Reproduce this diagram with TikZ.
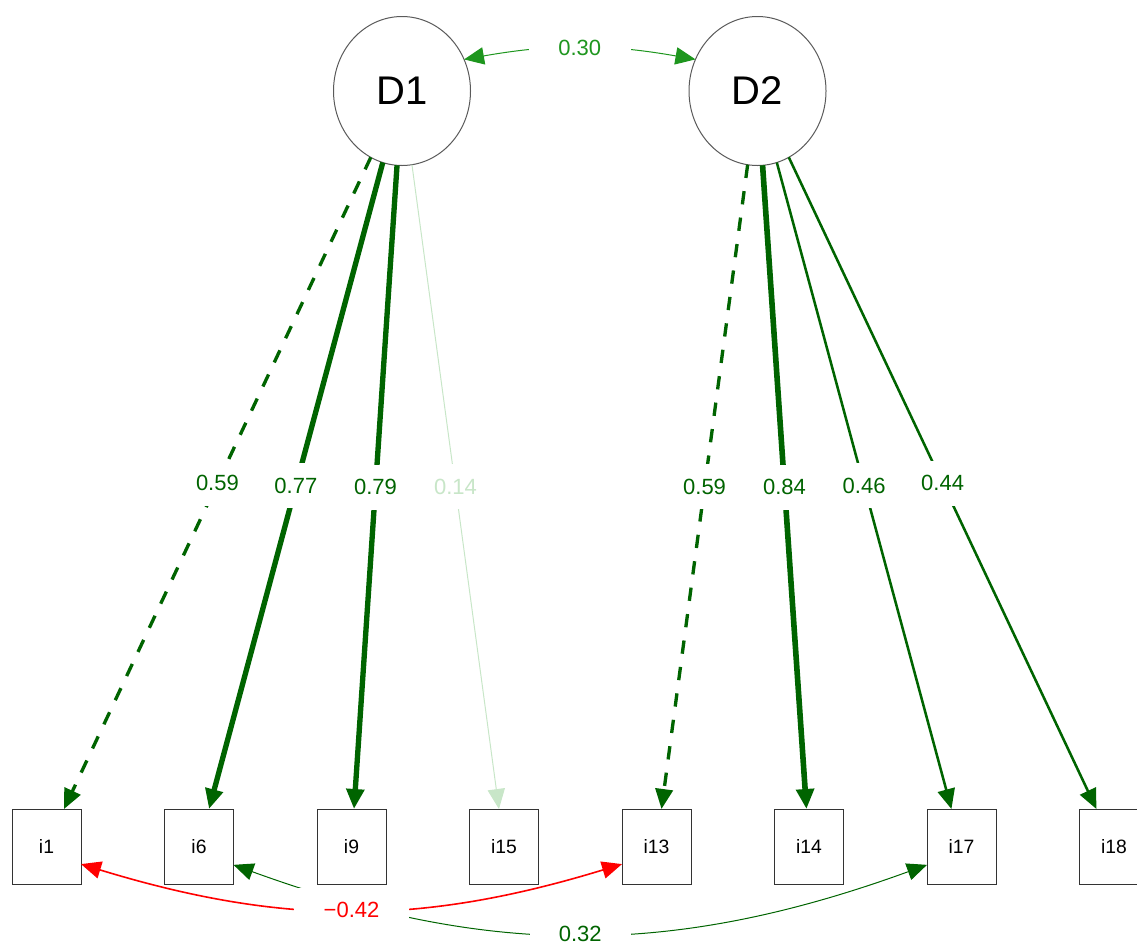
\documentclass[tikz,border=0pt]{standalone}
\usepackage{fontspec}
\setmainfont{Liberation Sans}
\usetikzlibrary{arrows.meta,shapes.geometric}

\definecolor{loadgreen}{RGB}{0,100,0}
\definecolor{weakgreen}{RGB}{200,230,200}
\definecolor{covgreen}{RGB}{30,150,30}
\definecolor{rimgray}{RGB}{90,90,90}

\tikzset{
  latent/.style={ellipse,draw=rimgray,line width=0.75pt,minimum width=102.75pt,minimum height=111.75pt,inner sep=0pt,outer sep=0pt,font=\fontsize{30}{36}\selectfont},
  item/.style={rectangle,draw=black!80,line width=0.75pt,minimum width=51.75pt,minimum height=56.25pt,inner sep=0pt,outer sep=0pt,font=\fontsize{14.5}{17}\selectfont},
  tip/.tip={Triangle[length=15pt,width=13pt]},
  load/.style={-tip},
  est/.style={fill=white,inner xsep=22pt,inner ysep=11pt,font=\fontsize{16.5}{20}\selectfont},
}

\begin{document}
\begin{tikzpicture}[x=0.75pt,y=0.75pt,yscale=-1,xscale=1]
\useasboundingbox (0,0) rectangle (1137,947);

%Shape: Circle
\node[latent] (D1) at (402,91) {D1};
%Shape: Circle
\node[latent] (D2) at (757.5,91) {D2};

%Shape: Rectangle
\node[item] (i1) at (46.5,846.5) {i1};
\node[item] (i6) at (199,846.5) {i6};
\node[item] (i9) at (351.5,846.5) {i9};
\node[item] (i15) at (504,846.5) {i15};
\node[item] (i13) at (656.5,846.5) {i13};
\node[item] (i14) at (809,846.5) {i14};
\node[item] (i17) at (961.5,846.5) {i17};
\node[item] (i18) at (1114,846.5) {i18};

%Straight Lines
\draw[load,draw=loadgreen,line width=2.5pt,dash pattern=on 10pt off 10pt] (D1) -- node[est,text=loadgreen] {0.59} (i1);
\draw[load,draw=loadgreen,line width=4pt] (D1) -- node[est,text=loadgreen] {0.77} (i6);
\draw[load,draw=loadgreen,line width=4pt] (D1) -- node[est,text=loadgreen] {0.79} (i9);
\draw[load,draw=weakgreen,line width=0.75pt] (D1) -- node[est,text=weakgreen] {0.14} (i15);

%Straight Lines
\draw[load,draw=loadgreen,line width=2.5pt,dash pattern=on 10pt off 10pt] (D2) -- node[est,text=loadgreen] {0.59} (i13);
\draw[load,draw=loadgreen,line width=4.2pt] (D2) -- node[est,text=loadgreen] {0.84} (i14);
\draw[load,draw=loadgreen,line width=1.9pt] (D2) -- node[est,text=loadgreen] {0.46} (i17);
\draw[load,draw=loadgreen,line width=1.9pt] (D2) -- node[est,text=loadgreen] {0.44} (i18);

%Curve Lines
\draw[tip-tip,draw=covgreen,line width=0.75pt] (D1.27) to[bend right=10] node[est,text=covgreen] {0.30} (D2.153);
\draw[tip-tip,draw=loadgreen,line width=0.75pt] (i6.-28) to[bend left=20] node[est,text=loadgreen] {0.32} (i17.208);
\draw[tip-tip,draw=red,line width=1.2pt] (i1.-27) to[bend left=17] node[est,text=red] {−0.42} (i13.207);

\end{tikzpicture}
\end{document}
